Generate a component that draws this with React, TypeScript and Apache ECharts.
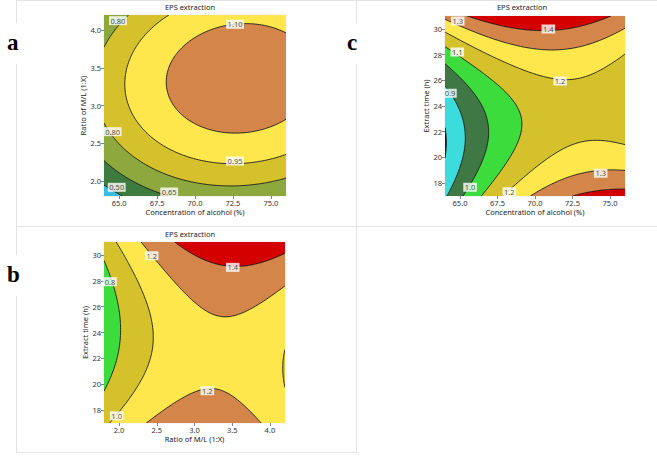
import React, { useEffect, useRef } from "react";
import * as echarts from "echarts";

const FONT = "'Noto Sans', 'DejaVu Sans', sans-serif";

// ---------- axes ----------
const alcoholRange = [64, 76];
const ratioRange = [1.8, 4.2];
const timeRange = [17, 31];
const alcoholTicks = [65, 67.5, 70, 72.5, 75];
const ratioTicks = [2.0, 2.5, 3.0, 3.5, 4.0];
const timeTicks = [18, 20, 22, 24, 26, 28, 30];

// ---------- panel a : alcohol (x) vs M/L ratio (y) ----------
// fitted response surface (coded units): [b0, bu, buu, buuu, bv, bvv, buv]
const modelA = [1.1438, 0.1248, -0.11, 0, 0.132, -0.2, 0.02];
const codingA = [70, 5, 3, 1]; // xCenter, xHalf, yCenter, yHalf
const levelsA = [0.5, 0.65, 0.8, 0.95, 1.1];
const colorsA = ["#3dbde6", "#3e7b3e", "#8da83c", "#d4c12b", "#fde74c", "#d3854a"];
const labelsA: [number, number, string][] = [
  [64.92, 4.125, "0.80"],
  [72.64, 4.077, "1.10"],
  [64.57, 2.653, "0.80"],
  [72.64, 2.264, "0.95"],
  [64.84, 1.915, "0.50"],
  [68.3, 1.853, "0.65"],
];

// ---------- panel c : alcohol (x) vs extract time (y) ----------
const modelC = [1.134, 0.136, -0.149, 0.012, 0.09, 0.27, -0.13];
const codingC = [70, 6, 24, 7];
const levelsC = [0.8, 0.9, 1.0, 1.1, 1.2, 1.3, 1.4];
const colorsC = ["#0c12a0", "#3ddcdc", "#3f7745", "#3ddc3d", "#d4c12b", "#fde74c", "#d3854a", "#d40000"];
const labelsC: [number, number, string][] = [
  [64.85, 30.61, "1.3"],
  [70.89, 29.99, "1.4"],
  [64.82, 28.2, "1.1"],
  [71.67, 25.94, "1.2"],
  [64.33, 24.99, "0.9"],
  [74.38, 18.77, "1.3"],
  [65.67, 17.68, "1.0"],
  [68.29, 17.33, "1.2"],
];

// ---------- panel b : M/L ratio (x) vs extract time (y) ----------
const modelB = [1.144, 0.15, -0.205, 0, 0.082, 0.254, 0.1];
const codingB = [3, 1, 24, 7];
const levelsB = [0.8, 1.0, 1.2, 1.4];
const colorsB = ["#3ddc3d", "#d4c12b", "#fde74c", "#d3854a", "#d40000"];
const labelsB: [number, number, string][] = [
  [2.433, 29.94, "1.2"],
  [3.507, 29.04, "1.4"],
  [1.88, 27.93, "0.8"],
  [3.17, 19.5, "1.2"],
  [1.968, 17.56, "1.0"],
];

type Pt = [number, number];

function surface(m: number[], c: number[]) {
  return (x: number, y: number) => {
    const u = (x - c[0]) / c[1];
    const v = (y - c[2]) / c[3];
    return m[0] + m[1] * u + m[2] * u * u + m[3] * u * u * u + m[4] * v + m[5] * v * v + m[6] * u * v;
  };
}

function band(z: number, levels: number[]) {
  let b = 0;
  while (b < levels.length && z >= levels[b]) b++;
  return b;
}

// runs of equal band along each row: [xStart, xEnd, yBottom, yTop, band]
function fillRuns(f: (x: number, y: number) => number, xr: number[], yr: number[], levels: number[], rows: number, cols: number) {
  const dx = (xr[1] - xr[0]) / cols;
  const dy = (yr[1] - yr[0]) / rows;
  const out: number[][] = [];
  for (let j = 0; j < rows; j++) {
    const yb = yr[0] + j * dy;
    const yt = yb + dy;
    const yc = yb + dy / 2;
    let start = xr[0];
    let cur = band(f(xr[0] + dx / 2, yc), levels);
    for (let i = 1; i < cols; i++) {
      const b = band(f(xr[0] + (i + 0.5) * dx, yc), levels);
      if (b !== cur) {
        const xe = xr[0] + i * dx;
        out.push([start, xe, yb, yt, cur]);
        start = xe;
        cur = b;
      }
    }
    out.push([start, xr[1], yb, yt, cur]);
  }
  return out;
}

function contourLines(f: (x: number, y: number) => number, xr: number[], yr: number[], levels: number[], n: number) {
  const xs: number[] = [];
  const ys: number[] = [];
  for (let i = 0; i <= n; i++) {
    xs.push(xr[0] + ((xr[1] - xr[0]) * i) / n);
    ys.push(yr[0] + ((yr[1] - yr[0]) * i) / n);
  }
  const g: number[][] = [];
  for (let j = 0; j <= n; j++) {
    const row: number[] = [];
    for (let i = 0; i <= n; i++) row.push(f(xs[i], ys[j]));
    g.push(row);
  }
  const lines: Pt[][] = [];
  for (const L of levels) {
    const segs: [string, Pt, string, Pt][] = [];
    for (let j = 0; j < n; j++) {
      for (let i = 0; i < n; i++) {
        const a = g[j][i], b = g[j][i + 1], c = g[j + 1][i + 1], d = g[j + 1][i];
        const ca = a >= L, cb = b >= L, cc = c >= L, cd = d >= L;
        const B = ca !== cb ? { k: `h${i}_${j}`, p: [xs[i] + ((L - a) / (b - a)) * (xs[i + 1] - xs[i]), ys[j]] as Pt } : null;
        const R = cb !== cc ? { k: `v${i + 1}_${j}`, p: [xs[i + 1], ys[j] + ((L - b) / (c - b)) * (ys[j + 1] - ys[j])] as Pt } : null;
        const T = cd !== cc ? { k: `h${i}_${j + 1}`, p: [xs[i] + ((L - d) / (c - d)) * (xs[i + 1] - xs[i]), ys[j + 1]] as Pt } : null;
        const Lf = ca !== cd ? { k: `v${i}_${j}`, p: [xs[i], ys[j] + ((L - a) / (d - a)) * (ys[j + 1] - ys[j])] as Pt } : null;
        const e = [B, R, T, Lf].filter(Boolean) as { k: string; p: Pt }[];
        if (e.length === 2) {
          segs.push([e[0].k, e[0].p, e[1].k, e[1].p]);
        } else if (e.length === 4) {
          const center = (a + b + c + d) / 4 >= L;
          if (center === ca) {
            segs.push([B!.k, B!.p, R!.k, R!.p]);
            segs.push([T!.k, T!.p, Lf!.k, Lf!.p]);
          } else {
            segs.push([B!.k, B!.p, Lf!.k, Lf!.p]);
            segs.push([T!.k, T!.p, R!.k, R!.p]);
          }
        }
      }
    }
    const adj = new Map<string, number[]>();
    const pts = new Map<string, Pt>();
    segs.forEach((s, k) => {
      for (const [key, p] of [[s[0], s[1]], [s[2], s[3]]] as [string, Pt][]) {
        pts.set(key, p);
        if (!adj.has(key)) adj.set(key, []);
        adj.get(key)!.push(k);
      }
    });
    const used = new Array(segs.length).fill(false);
    const walk = (startKey: string) => {
      const line: Pt[] = [pts.get(startKey)!];
      let key = startKey;
      for (;;) {
        const nexts = adj.get(key)!.filter((k) => !used[k]);
        if (!nexts.length) break;
        const k = nexts[0];
        used[k] = true;
        const s = segs[k];
        const other = s[0] === key ? s[2] : s[0];
        line.push(pts.get(other)!);
        key = other;
      }
      return line;
    };
    adj.forEach((list, key) => {
      if (list.length === 1 && !used[list[0]]) lines.push(walk(key));
    });
    segs.forEach((s, k) => {
      if (!used[k]) lines.push(walk(s[0]));
    });
  }
  return lines;
}

const panelDefs = [
  {
    grid: { left: 104, top: 15, width: 182, height: 181 },
    xr: alcoholRange, yr: ratioRange, xt: alcoholTicks, yt: ratioTicks,
    xDec: 1, yDec: 1,
    xName: "Concentration of alcohol (%)", yName: "Ratio of M/L (1:X)",
    model: modelA, coding: codingA, levels: levelsA, colors: colorsA, labels: labelsA,
  },
  {
    grid: { left: 445, top: 16, width: 180, height: 180 },
    xr: alcoholRange, yr: timeRange, xt: alcoholTicks, yt: timeTicks,
    xDec: 1, yDec: 0,
    xName: "Concentration of alcohol (%)", yName: "Extract time (h)",
    model: modelC, coding: codingC, levels: levelsC, colors: colorsC, labels: labelsC,
  },
  {
    grid: { left: 104, top: 242, width: 181, height: 181 },
    xr: ratioRange, yr: timeRange, xt: ratioTicks, yt: timeTicks,
    xDec: 1, yDec: 0,
    xName: "Ratio of M/L (1:X)", yName: "Extract time (h)",
    model: modelB, coding: codingB, levels: levelsB, colors: colorsB, labels: labelsB,
  },
];

const panelTitles = [
  { text: "EPS extraction", x: 190, y: 3 },
  { text: "EPS extraction", x: 522, y: 3 },
  { text: "EPS extraction", x: 190, y: 230 },
];
const panelLetters = [
  { text: "a", x: 0, y: 23 },
  { text: "c", x: 340, y: 23 },
  { text: "b", x: 0, y: 255 },
];

function buildOption() {
  const grids: any[] = [];
  const xAxes: any[] = [];
  const yAxes: any[] = [];
  const series: any[] = [];
  const axisCommon = {
    axisLine: { show: false },
    splitLine: { show: false },
  };
  panelDefs.forEach((P, idx) => {
    grids.push({ ...P.grid, show: true, borderColor: "#d6d6d6", borderWidth: 0.5 });
    xAxes.push({
      ...axisCommon,
      gridIndex: idx, type: "value", min: P.xr[0], max: P.xr[1],
      axisTick: { show: true, length: 3, customValues: P.xt, lineStyle: { color: "#666", width: 0.8 } },
      axisLabel: { customValues: P.xt, formatter: (v: number) => v.toFixed(P.xDec), fontSize: 7.5, color: "#333", margin: 3, fontFamily: FONT },
      name: P.xName, nameLocation: "middle", nameGap: 12,
      nameTextStyle: { fontSize: 7.5, color: "#222", fontFamily: FONT },
    });
    yAxes.push({
      ...axisCommon,
      gridIndex: idx, type: "value", min: P.yr[0], max: P.yr[1],
      axisTick: { show: true, length: 3, customValues: P.yt, lineStyle: { color: "#666", width: 0.8 } },
      axisLabel: { customValues: P.yt, formatter: (v: number) => v.toFixed(P.yDec), fontSize: 7.5, color: "#333", margin: 3, fontFamily: FONT },
      name: P.yName, nameLocation: "middle", nameGap: 15,
      nameTextStyle: { fontSize: 7.5, color: "#222", fontFamily: FONT },
    });
    const f = surface(P.model, P.coding);
    // one row per screen pixel of the plot so that rows meet exactly on pixel edges
    const runs = fillRuns(f, P.xr, P.yr, P.levels, P.grid.height, 500);
    const lines = contourLines(f, P.xr, P.yr, P.levels, 110);
    const colors = P.colors;
    series.push({
      type: "custom", xAxisIndex: idx, yAxisIndex: idx, clip: true, silent: true, z: 1,
      progressive: 0,
      encode: { x: [0, 1], y: [2, 3] },
      data: runs,
      renderItem: (params: any, api: any) => {
        const p0 = api.coord([api.value(0), api.value(3)]);
        const p1 = api.coord([api.value(1), api.value(2)]);
        const y0 = Math.round(p0[1]);
        const y1 = Math.round(p1[1]);
        return {
          type: "rect",
          z2: params.dataIndex,
          shape: { x: p0[0], y: y0, width: p1[0] - p0[0] + 1, height: y1 - y0 },
          style: { fill: colors[api.value(4)] },
        };
      },
    });
    series.push({
      type: "custom", xAxisIndex: idx, yAxisIndex: idx, clip: true, silent: true, z: 2,
      encode: { x: 1, y: 2 },
      data: lines.map((ln, k) => [k, ln[0][0], ln[0][1]]),
      renderItem: (_p: any, api: any) => {
        const ln = lines[api.value(0)];
        return {
          type: "polyline",
          shape: { points: ln.map((p) => api.coord(p)) },
          style: { stroke: "#1a1a1a", lineWidth: 0.9, fill: "none" },
        };
      },
    });
    series.push({
      type: "scatter", xAxisIndex: idx, yAxisIndex: idx, silent: true, z: 3,
      symbolSize: 1, itemStyle: { color: "rgba(0,0,0,0)" },
      data: P.labels.map((l) => ({ value: [l[0], l[1]], name: l[2] })),
      label: {
        show: true, position: "inside", formatter: "{b}", fontSize: 7.5, color: "#222",
        fontFamily: FONT, backgroundColor: "#ffffff", padding: [1, 1.5, 0, 1.5], lineHeight: 8,
      },
    });
  });

  const titles: any[] = [];
  panelTitles.forEach((t) => {
    titles.push({
      text: t.text, left: t.x, top: t.y, textAlign: "center", padding: 0,
      textStyle: { fontSize: 7.5, fontWeight: "normal", color: "#222", fontFamily: FONT },
    });
  });
  panelLetters.forEach((t) => {
    titles.push({
      text: t.text, left: t.x, top: t.y, backgroundColor: "#ffffff", padding: [8, 7, 10, 7],
      textStyle: { fontSize: 23, fontWeight: "bold", color: "#000", fontFamily: "'Liberation Serif', 'DejaVu Serif', serif" },
    });
  });

  const stroke = { stroke: "#e3e3e3", lineWidth: 1 };
  const graphic = [
    { type: "line", z: 0, shape: { x1: 16.5, y1: 0.5, x2: 657, y2: 0.5 }, style: stroke },
    { type: "line", z: 0, shape: { x1: 16.5, y1: 0, x2: 16.5, y2: 453 }, style: stroke },
    { type: "line", z: 0, shape: { x1: 356.5, y1: 0, x2: 356.5, y2: 453 }, style: stroke },
    { type: "line", z: 0, shape: { x1: 16, y1: 226.5, x2: 657, y2: 226.5 }, style: stroke },
    { type: "line", z: 0, shape: { x1: 16, y1: 452.5, x2: 357, y2: 452.5 }, style: stroke },
  ];

  return {
    animation: false,
    backgroundColor: "#ffffff",
    title: titles,
    grid: grids,
    xAxis: xAxes,
    yAxis: yAxes,
    series,
    graphic,
  };
}

export default function App() {
  const ref = useRef<HTMLDivElement>(null);
  useEffect(() => {
    if (!ref.current) return;
    const chart = echarts.init(ref.current, undefined, { renderer: "svg" });
    chart.setOption(buildOption() as any);
    return () => chart.dispose();
  }, []);
  return (
    <div
      ref={ref}
      style={{ position: "fixed", left: 0, top: 0, width: 657, height: 461, background: "#fff" }}
    />
  );
}
